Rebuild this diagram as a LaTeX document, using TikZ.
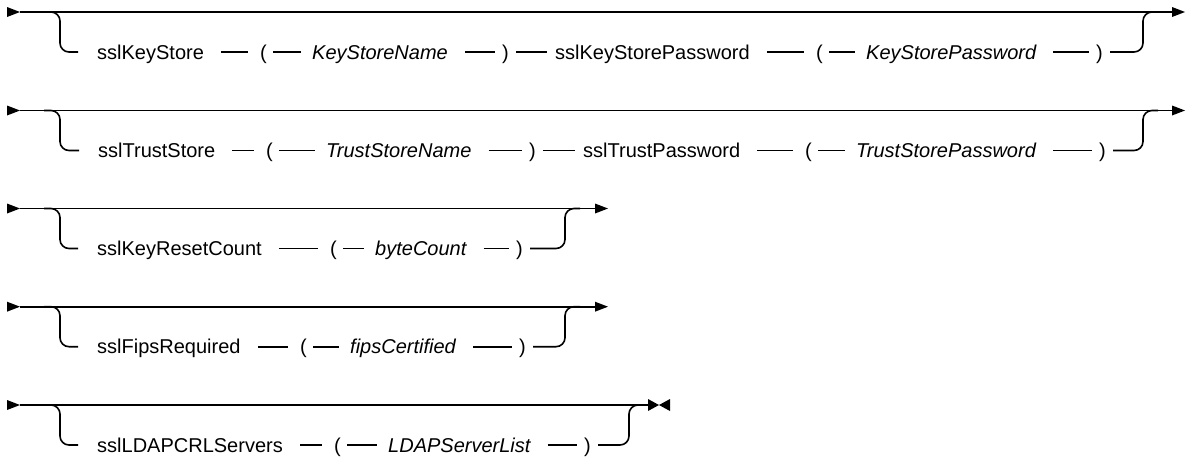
\documentclass[tikz,border=0pt]{standalone}
\usepackage{fontspec}
\setmainfont{Liberation Sans}
\tikzset{
  rail/.style={line width=1.6pt, draw=black},
  rc/.style={rail, rounded corners=9pt},
  kw/.style={anchor=west, inner sep=0pt, text height=18pt, text depth=4pt,
             font=\fontsize{20}{24}\selectfont, text=black},
  var/.style={kw, font=\fontsize{20}{24}\selectfont\itshape},
  tip/.style={fill=black},
}
\begin{document}
\begin{tikzpicture}[x=1pt,y=-1pt]
\useasboundingbox (0,0) rectangle (1186,456);

% ---------------- Row 1 ----------------
\coordinate (a1s) at (20,12);
\coordinate (a1e) at (1172,12);
\coordinate (a1l) at (44,12);
\coordinate (a1r) at (1158,12);
\fill[tip] (7,7) -- (a1s) -- (7,17) -- cycle;
\draw[rail] (a1s) -- (a1e);
\fill[tip] (a1e) -- ++(0,-5) -- ++(13,5) -- ++(-13,5) -- cycle;
\node[kw]  (a1k1) at (97,52)   {sslKeyStore};
\node[kw]  (a1o1) at (260,52)  {(};
\node[var] (a1v1) at (312,52)  {KeyStoreName};
\node[kw]  (a1c1) at (502,52)  {)};
\node[kw]  (a1k2) at (555,52)  {sslKeyStorePassword};
\node[kw]  (a1o2) at (816,52)  {(};
\node[var] (a1v2) at (866,52)  {KeyStorePassword};
\node[kw]  (a1c2) at (1096,52) {)};
\draw[rc] (a1l) -- (60,12) -- (60,52) -- ([xshift=-19pt]a1k1.west);
\draw[rail] ([xshift=17pt]a1k1.east) -- ([xshift=-12pt]a1o1.west);
\draw[rail] ([xshift=6pt]a1o1.east) -- ([xshift=-11pt]a1v1.west);
\draw[rail] ([xshift=17pt]a1v1.east) -- ([xshift=-7pt]a1c1.west);
\draw[rail] ([xshift=7pt]a1c1.east) -- ([xshift=-8pt]a1k2.west);
\draw[rail] ([xshift=17pt]a1k2.east) -- ([xshift=-12pt]a1o2.west);
\draw[rail] ([xshift=6pt]a1o2.east) -- ([xshift=-11pt]a1v2.west);
\draw[rail] ([xshift=17pt]a1v2.east) -- ([xshift=-7pt]a1c2.west);
\draw[rc] ([xshift=7pt]a1c2.east) -- (1143,52) -- (1143,12) -- (a1r);

% ---------------- Row 2 ----------------
\coordinate (a2s) at (20,110.5);
\coordinate (a2e) at (1172,110.5);
\coordinate (a2l) at (44,110.5);
\coordinate (a2r) at (1158,110.5);
\fill[tip] (7,105.5) -- (a2s) -- (7,115.5) -- cycle;
\draw[rail] (a2s) -- (a2e);
\fill[tip] (a2e) -- ++(0,-5) -- ++(13,5) -- ++(-13,5) -- cycle;
\node[kw]  (a2k1) at (98,150.5)   {sslTrustStore};
\node[kw]  (a2o1) at (266,150.5)  {(};
\node[var] (a2v1) at (326,150.5)  {TrustStoreName};
\node[kw]  (a2c1) at (529,150.5)  {)};
\node[kw]  (a2k2) at (583,150.5)  {sslTrustPassword};
\node[kw]  (a2o2) at (805,150.5)  {(};
\node[var] (a2v2) at (856,150.5)  {TrustStorePassword};
\node[kw]  (a2c2) at (1099,150.5) {)};
\draw[rc] (a2l) -- (60,110.5) -- (60,150.5) -- ([xshift=-19pt]a2k1.west);
\draw[rail] ([xshift=17pt]a2k1.east) -- ([xshift=-12pt]a2o1.west);
\draw[rail] ([xshift=6pt]a2o1.east) -- ([xshift=-11pt]a2v1.west);
\draw[rail] ([xshift=17pt]a2v1.east) -- ([xshift=-7pt]a2c1.west);
\draw[rail] ([xshift=7pt]a2c1.east) -- ([xshift=-8pt]a2k2.west);
\draw[rail] ([xshift=17pt]a2k2.east) -- ([xshift=-12pt]a2o2.west);
\draw[rail] ([xshift=6pt]a2o2.east) -- ([xshift=-11pt]a2v2.west);
\draw[rail] ([xshift=17pt]a2v2.east) -- ([xshift=-7pt]a2c2.west);
\draw[rc] ([xshift=7pt]a2c2.east) -- (1143,150.5) -- (1143,110.5) -- (a2r);

% ---------------- Row 3 ----------------
\coordinate (a3s) at (20,208.5);
\coordinate (a3e) at (595,208.5);
\coordinate (a3l) at (44,208.5);
\coordinate (a3r) at (580,208.5);
\fill[tip] (7,203.5) -- (a3s) -- (7,213.5) -- cycle;
\draw[rail] (a3s) -- (a3e);
\fill[tip] (a3e) -- ++(0,-5) -- ++(13,5) -- ++(-13,5) -- cycle;
\node[kw]  (a3k1) at (97,248.5)  {sslKeyResetCount};
\node[kw]  (a3o1) at (330,248.5) {(};
\node[var] (a3v1) at (375,248.5) {byteCount};
\node[kw]  (a3c1) at (516,248.5) {)};
\draw[rc] (a3l) -- (60,208.5) -- (60,248.5) -- ([xshift=-19pt]a3k1.west);
\draw[rail] ([xshift=17pt]a3k1.east) -- ([xshift=-12pt]a3o1.west);
\draw[rail] ([xshift=6pt]a3o1.east) -- ([xshift=-11pt]a3v1.west);
\draw[rail] ([xshift=17pt]a3v1.east) -- ([xshift=-7pt]a3c1.west);
\draw[rc] ([xshift=7pt]a3c1.east) -- (565,248.5) -- (565,208.5) -- (a3r);

% ---------------- Row 4 ----------------
\coordinate (a4s) at (20,306.7);
\coordinate (a4e) at (595,306.7);
\coordinate (a4l) at (44,306.7);
\coordinate (a4r) at (580,306.7);
\fill[tip] (7,301.7) -- (a4s) -- (7,311.7) -- cycle;
\draw[rail] (a4s) -- (a4e);
\fill[tip] (a4e) -- ++(0,-5) -- ++(13,5) -- ++(-13,5) -- cycle;
\node[kw]  (a4k1) at (97,346.7)  {sslFipsRequired};
\node[kw]  (a4o1) at (300,346.7) {(};
\node[var] (a4v1) at (350,346.7) {fipsCertified};
\node[kw]  (a4c1) at (519,346.7) {)};
\draw[rc] (a4l) -- (60,306.7) -- (60,346.7) -- ([xshift=-19pt]a4k1.west);
\draw[rail] ([xshift=17pt]a4k1.east) -- ([xshift=-12pt]a4o1.west);
\draw[rail] ([xshift=6pt]a4o1.east) -- ([xshift=-11pt]a4v1.west);
\draw[rail] ([xshift=17pt]a4v1.east) -- ([xshift=-7pt]a4c1.west);
\draw[rc] ([xshift=7pt]a4c1.east) -- (565,346.7) -- (565,306.7) -- (a4r);

% ---------------- Row 5 ----------------
\coordinate (a5s) at (20,405);
\coordinate (a5e) at (648,405);
\coordinate (a5l) at (44,405);
\coordinate (a5r) at (642,405);
\fill[tip] (7,400) -- (a5s) -- (7,410) -- cycle;
\draw[rail] (a5s) -- (a5e);
\fill[tip] (a5e) -- ++(0,-6) -- ++(11,6) -- ++(-11,6) -- cycle;
\fill[tip] (670,399) -- (659,405) -- (670,411) -- cycle;
\node[kw]  (a5k1) at (97,445)  {sslLDAPCRLServers};
\node[kw]  (a5o1) at (334,445) {(};
\node[var] (a5v1) at (388,445) {LDAPServerList};
\node[kw]  (a5c1) at (584,445) {)};
\draw[rc] (a5l) -- (60,405) -- (60,445) -- ([xshift=-19pt]a5k1.west);
\draw[rail] ([xshift=17pt]a5k1.east) -- ([xshift=-12pt]a5o1.west);
\draw[rail] ([xshift=6pt]a5o1.east) -- ([xshift=-11pt]a5v1.west);
\draw[rail] ([xshift=17pt]a5v1.east) -- ([xshift=-7pt]a5c1.west);
\draw[rc] ([xshift=7pt]a5c1.east) -- (629,445) -- (629,405) -- (a5r);
\end{tikzpicture}
\end{document}
